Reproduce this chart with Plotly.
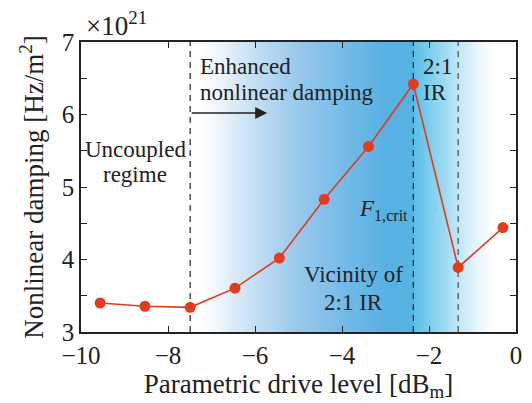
import plotly.graph_objects as go

# Data
drive_level = [-9.56, -8.53, -7.49, -6.46, -5.44, -4.41, -3.39, -2.36, -1.33, -0.30]
damping = [3.40, 3.355, 3.34, 3.605, 4.02, 4.83, 5.56, 6.42, 3.89, 4.44]
x_ticks = [-10, -8, -6, -4, -2, 0]
x_ticktext = ["\u221210", "\u22128", "\u22126", "\u22124", "\u22122", "0"]
y_ticks = [3, 3.5, 4, 4.5, 5, 5.5, 6, 6.5, 7]
y_ticktext = ["3", "", "4", "", "5", "", "6", "", "7"]
regime_lines = [-7.49, -2.36, -1.33]

FONT = "Liberation Serif, Times New Roman, DejaVu Serif, serif"
RED = "#e23b1d"
TXT = "#222222"

# background gradient colour stops (style)
stops = [
    (-7.2, (255, 255, 255)),
    (-6.0, (196, 222, 243)),
    (-5.0, (152, 200, 236)),
    (-4.0, (118, 187, 232)),
    (-3.0, (88, 177, 227)),
    (-2.37, (84, 180, 228)),
    (-2.35, (94, 192, 233)),
    (-2.0, (124, 206, 238)),
    (-1.5, (174, 225, 245)),
    (-1.0, (224, 243, 251)),
    (-0.57, (255, 255, 255)),
]
x_start, x_end = stops[0][0], stops[-1][0]
colorscale = [[(xs - x_start) / (x_end - x_start), "rgb(%d,%d,%d)" % c] for xs, c in stops]
n = 300
grad_x = [x_start + (x_end - x_start) * i / (n - 1) for i in range(n)]

fig = go.Figure()
fig.add_trace(go.Heatmap(x=grad_x, y=[3, 7], z=[grad_x, grad_x], zmin=x_start, zmax=x_end,
                         colorscale=colorscale, showscale=False, zsmooth="best",
                         hoverinfo="skip"))

dash_colors = ["#333333", "#222222", "#555555"]
for xv, c in zip(regime_lines, dash_colors):
    fig.add_trace(go.Scatter(x=[xv, xv], y=[3, 7], mode="lines",
                             line=dict(color=c, width=1.3, dash="6px,5px"),
                             showlegend=False, hoverinfo="skip"))

fig.add_trace(go.Scatter(x=drive_level, y=damping, mode="lines+markers",
                         line=dict(color=RED, width=1.6),
                         marker=dict(color=RED, size=11, line=dict(width=0)),
                         showlegend=False, hoverinfo="skip"))

ann_font = dict(family=FONT, size=23, color=TXT)
anns = [
    dict(x=-7.31, y=6.66, text="Enhanced", xanchor="left"),
    dict(x=-7.31, y=6.30, text="nonlinear damping", xanchor="left"),
    dict(x=-2.18, y=6.66, text="2:1", xanchor="left"),
    dict(x=-2.18, y=6.30, text="IR", xanchor="left"),
    dict(x=-8.75, y=5.52, text="Uncoupled", xanchor="center"),
    dict(x=-8.75, y=5.17, text="regime", xanchor="center"),
    dict(x=-2.43, y=4.68, text="<i>F</i><sub>1,crit</sub>", xanchor="right"),
    dict(x=-3.73, y=3.80, text="Vicinity of", xanchor="center"),
    dict(x=-3.73, y=3.41, text="2:1 IR", xanchor="center"),
]
annotations = []
for a in anns:
    a.update(xref="x", yref="y", showarrow=False, yanchor="middle", font=ann_font)
    annotations.append(a)

annotations.append(dict(x=-5.72, y=6.02, ax=-7.49, ay=6.02, xref="x", yref="y",
                        axref="x", ayref="y", text="", showarrow=True, arrowhead=2,
                        arrowsize=1.6, arrowwidth=1.5, arrowcolor=TXT))
annotations.append(dict(x=0.006, y=1.0, xref="paper", yref="paper", xanchor="left",
                        yanchor="bottom", yshift=-1, showarrow=False,
                        text="\u00d710<sup>21</sup>", font=dict(family=FONT, size=27, color=TXT)))

axis_common = dict(showline=True, linecolor=TXT, linewidth=1.5, mirror="ticks",
                   ticks="inside", ticklen=6, tickwidth=1.2, tickcolor=TXT,
                   showgrid=False, zeroline=False,
                   tickfont=dict(family=FONT, size=25, color=TXT))

fig.update_layout(
    width=532, height=403,
    margin=dict(l=81, r=10, t=42, b=68),
    plot_bgcolor="white", paper_bgcolor="white",
    font=dict(family=FONT, color=TXT),
    annotations=annotations,
    xaxis=dict(range=[-10, 0], tickvals=x_ticks, ticktext=x_ticktext,
               title=dict(text="Parametric drive level [dB<sub>m</sub>]",
                          font=dict(family=FONT, size=27, color=TXT), standoff=5),
               **axis_common),
    yaxis=dict(range=[3, 7], tickvals=y_ticks, ticktext=y_ticktext,
               title=dict(text="Nonlinear damping [Hz/m<sup>2</sup>]",
                          font=dict(family=FONT, size=27, color=TXT), standoff=10),
               **axis_common),
)

fig.write_html("out.html")
